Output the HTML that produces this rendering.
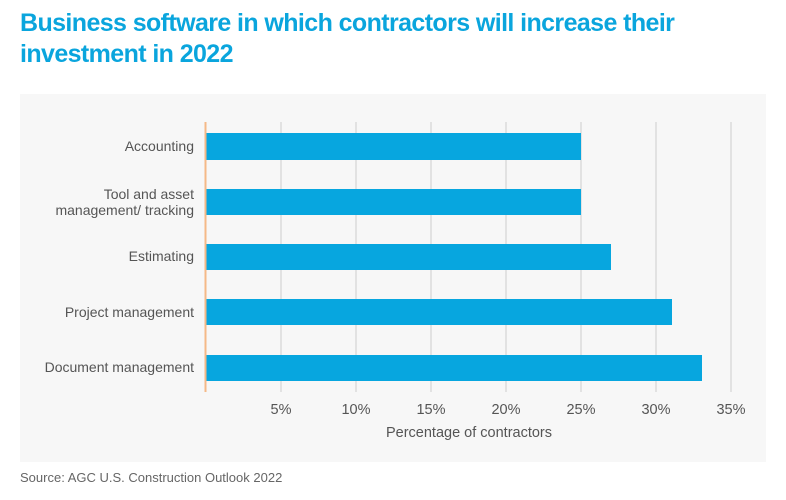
<!DOCTYPE html>
<html><head><meta charset="utf-8"><style>
body{margin:0;width:786px;height:500px;background:#fff;font-family:"Liberation Sans",sans-serif;overflow:hidden}
.t{position:absolute;left:20px;top:8px;font-size:25px;font-weight:bold;color:#0aa5dd;line-height:31px;letter-spacing:-0.6px}
.src{position:absolute;left:20px;top:470px;font-size:13px;color:#666}
</style></head><body>
<div class="t">Business software in which contractors will increase their<br>investment in 2022</div>
<svg style="position:absolute;left:0;top:0" width="786" height="500">
<rect x="20" y="94" width="746" height="368" fill="#f7f7f7"/>
<g stroke="#e2e2e2" stroke-width="2">
<line x1="281" y1="122" x2="281" y2="392"/><line x1="356" y1="122" x2="356" y2="392"/>
<line x1="431" y1="122" x2="431" y2="392"/><line x1="506" y1="122" x2="506" y2="392"/>
<line x1="581" y1="122" x2="581" y2="392"/><line x1="656" y1="122" x2="656" y2="392"/>
<line x1="731" y1="122" x2="731" y2="392"/></g>
<g fill="#07a6df">
<rect x="206" y="133" width="375" height="27"/>
<rect x="206" y="189" width="375" height="26"/>
<rect x="206" y="244" width="405" height="26"/>
<rect x="206" y="299" width="466" height="26"/>
<rect x="206" y="355" width="496" height="26"/></g>
<line x1="205.5" y1="122" x2="205.5" y2="392" stroke="#f5b987" stroke-width="2"/>
<g font-size="14" fill="#555" text-anchor="end" font-family="Liberation Sans,sans-serif">
<text x="194" y="151">Accounting</text>
<text x="194" y="199">Tool and asset</text>
<text x="194" y="215">management/ tracking</text>
<text x="194" y="261">Estimating</text>
<text x="194" y="317">Project management</text>
<text x="194" y="372">Document management</text></g>
<g font-size="14.5" fill="#555" text-anchor="middle" font-family="Liberation Sans,sans-serif">
<text x="281" y="414">5%</text><text x="356" y="414">10%</text><text x="431" y="414">15%</text>
<text x="506" y="414">20%</text><text x="581" y="414">25%</text><text x="656" y="414">30%</text>
<text x="731" y="414">35%</text>
<text x="469" y="437">Percentage of contractors</text></g>
</svg>
<div class="src">Source: AGC U.S. Construction Outlook 2022</div>
</body></html>
